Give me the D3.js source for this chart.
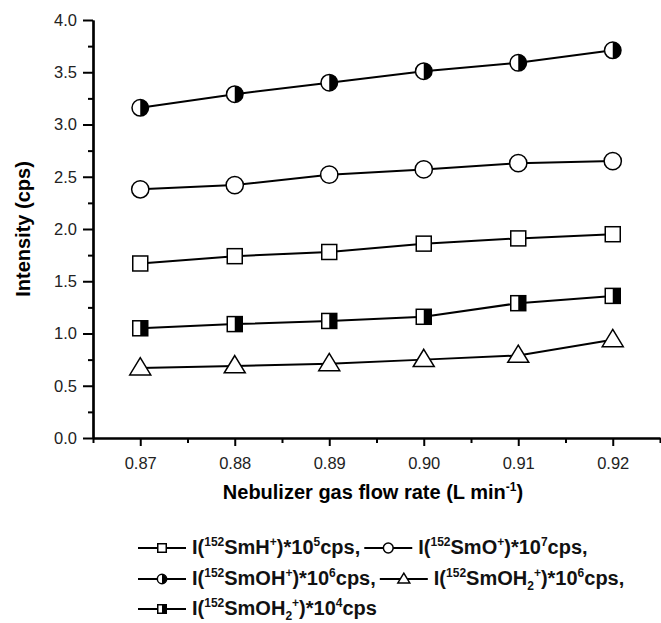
<!DOCTYPE html>
<html>
<head>
<meta charset="utf-8">
<script src="https://cdn.jsdelivr.net/npm/d3@7"></script>
<style>
  body { margin: 0; background: #fff; }
  svg { display: block; font-family: "Liberation Sans", Arial, sans-serif; }
</style>
</head>
<body>
<div id="main-vis"></div>
<script>
// values
const flowRate = [0.87, 0.88, 0.89, 0.90, 0.91, 0.92]
const smH   = [1.67, 1.74, 1.78, 1.86, 1.91, 1.95]
const smO   = [2.38, 2.42, 2.52, 2.57, 2.63, 2.65]
const smOH  = [3.16, 3.29, 3.40, 3.51, 3.59, 3.71]
const smOH2a = [0.67, 0.69, 0.71, 0.75, 0.79, 0.94]
const smOH2b = [1.05, 1.09, 1.12, 1.16, 1.29, 1.36]

const xTicks = [0.87, 0.88, 0.89, 0.90, 0.91, 0.92]
const yTicks = [0, 0.5, 1, 1.5, 2, 2.5, 3, 3.5, 4]

const series = [
  { vals: smH, sym: 'square', label: [['I('], ['152', 'sup'], ['SmH'], ['+', 'sup'], [')*10'], ['5', 'sup'], ['cps,']] },
  { vals: smO, sym: 'circle', label: [['I('], ['152', 'sup'], ['SmO'], ['+', 'sup'], [')*10'], ['7', 'sup'], ['cps,']] },
  { vals: smOH, sym: 'halfcircle', label: [['I('], ['152', 'sup'], ['SmOH'], ['+', 'sup'], [')*10'], ['6', 'sup'], ['cps,']] },
  { vals: smOH2a, sym: 'triangle', label: [['I('], ['152', 'sup'], ['SmOH'], ['2', 'subsup'], ['+', 'sup'], [')*10'], ['6', 'sup'], ['cps,']] },
  { vals: smOH2b, sym: 'halfsquare', label: [['I('], ['152', 'sup'], ['SmOH'], ['2', 'subsup'], ['+', 'sup'], [')*10'], ['4', 'sup'], ['cps']] }
]
const legendRows = [[0, 1], [2, 3], [4]]

const W = 661, H = 623
const svg = d3.select('#main-vis').append('svg').attr('width', W).attr('height', H)

const x = d3.scaleLinear().domain([0.865, 0.925]).range([93, 660])
const y = d3.scaleLinear().domain([0, 4]).range([438, 20])

// y axis
const yAxis = svg.append('g').attr('transform', 'translate(93,0)')
yAxis.call(d3.axisLeft(y).tickValues(d3.range(0.25, 4, 0.5)).tickSize(5).tickSizeOuter(0).tickFormat(''))
yAxis.append('g').call(d3.axisLeft(y).tickValues(yTicks).tickSize(10).tickSizeOuter(0).tickFormat(d3.format('.1f')))
yAxis.selectAll('path.domain').attr('stroke-width', 2.2).attr('stroke', '#000')
yAxis.selectAll('.tick line').attr('stroke-width', 2).attr('stroke', '#000')
yAxis.selectAll('.tick text').attr('font-size', 16.5).attr('fill', '#222').attr('x', -16)
  .attr('font-family', '"Liberation Sans", Arial, sans-serif')

// x axis
const xAxis = svg.append('g').attr('transform', 'translate(0,438)')
xAxis.call(d3.axisBottom(x).tickValues(d3.range(0.865, 0.926, 0.01)).tickSize(5).tickSizeOuter(0).tickFormat(''))
xAxis.append('g').call(d3.axisBottom(x).tickValues(xTicks).tickSize(8).tickSizeOuter(0).tickFormat(d3.format('.2f')))
xAxis.selectAll('path.domain').attr('stroke-width', 2.2).attr('stroke', '#000')
xAxis.selectAll('.tick line').attr('stroke-width', 2).attr('stroke', '#000')
xAxis.selectAll('.tick text').attr('font-size', 16.5).attr('fill', '#222').attr('y', 19)
  .attr('font-family', '"Liberation Sans", Arial, sans-serif')

// axis titles
svg.append('text')
  .attr('transform', 'translate(30,229) rotate(-90)')
  .attr('text-anchor', 'middle')
  .attr('font-size', 20).attr('font-weight', 'bold')
  .text('Intensity (cps)')

const xt = svg.append('text')
  .attr('x', 373).attr('y', 499)
  .attr('text-anchor', 'middle')
  .attr('font-size', 20).attr('font-weight', 'bold')
xt.append('tspan').text('Nebulizer gas flow rate (L min')
xt.append('tspan').attr('font-size', 12).attr('dy', -8).text('-1')
xt.append('tspan').attr('dy', 8).text(')')

// marker drawing
function marker(g, sym, s) {
  const h = s / 2
  if (sym === 'square') {
    g.append('rect').attr('x', -h).attr('y', -h).attr('width', s).attr('height', s)
      .attr('fill', '#fff').attr('stroke', '#000').attr('stroke-width', 1.5)
  } else if (sym === 'circle') {
    g.append('circle').attr('r', h * 1.15).attr('fill', '#fff').attr('stroke', '#000').attr('stroke-width', 1.5)
  } else if (sym === 'halfcircle') {
    const r = h * 1.1
    g.append('circle').attr('r', r).attr('fill', '#fff').attr('stroke', '#000').attr('stroke-width', 1.5)
    g.append('path').attr('d', `M0,${-r}A${r},${r} 0 0 1 0,${r}Z`).attr('fill', '#000')
  } else if (sym === 'halfsquare') {
    g.append('rect').attr('x', -h).attr('y', -h).attr('width', s).attr('height', s)
      .attr('fill', '#fff').attr('stroke', '#000').attr('stroke-width', 1.5)
    g.append('rect').attr('x', 0).attr('y', -h).attr('width', h).attr('height', s).attr('fill', '#000')
  } else if (sym === 'triangle') {
    const tw = s * 0.7, th = s * 1.15
    g.append('path').attr('d', `M0,${-th * 0.6}L${tw},${th * 0.4}L${-tw},${th * 0.4}Z`)
      .attr('fill', '#fff').attr('stroke', '#000').attr('stroke-width', 1.5)
  }
}

const line = d3.line().x((d, i) => x(flowRate[i])).y(d => y(d))

series.forEach(s => {
  svg.append('path').datum(s.vals).attr('d', line)
    .attr('fill', 'none').attr('stroke', '#000').attr('stroke-width', 2)
  svg.selectAll(null).data(s.vals).join('g')
    .attr('transform', (d, i) => `translate(${x(flowRate[i])},${y(d)})`)
    .each(function () { marker(d3.select(this), s.sym, 15) })
})

// legend
const rowY = [554, 585, 615]
legendRows.forEach((row, ri) => {
  let cx = 138
  row.forEach(si => {
    const s = series[si]
    const yy = rowY[ri] - 6
    svg.append('line').attr('x1', cx).attr('x2', cx + 48).attr('y1', yy).attr('y2', yy)
      .attr('stroke', '#000').attr('stroke-width', 2)
    const g = svg.append('g').attr('transform', `translate(${cx + 24},${yy})`)
    marker(g, s.sym, 8.5)
    const t = svg.append('text').attr('x', cx + 54).attr('y', rowY[ri])
      .attr('font-size', 20).attr('font-weight', 'bold').attr('fill', '#111')
    let shift = 0
    s.label.forEach(([txt, kind]) => {
      let target = 0, fs = 20
      if (kind === 'sup') { target = -8; fs = 12 }
      if (kind === 'subsup') { target = 5; fs = 12 }
      t.append('tspan').attr('dy', target - shift).attr('font-size', fs).text(txt)
      shift = target
    })
    const tl = t.node().getComputedTextLength()
    cx = cx + 54 + tl + 4
  })
})
</script>
</body>
</html>
